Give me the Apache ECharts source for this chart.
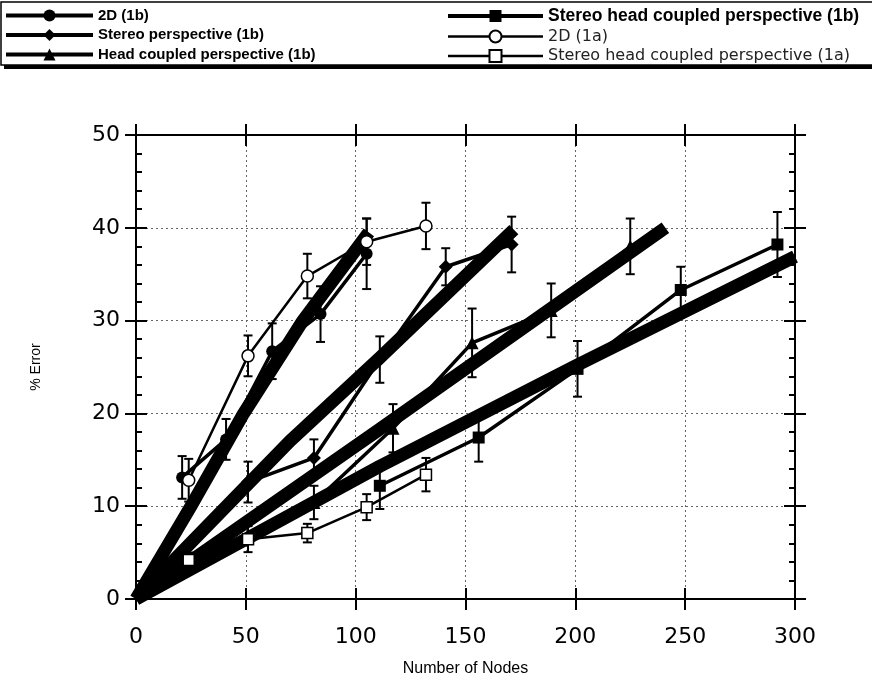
<!DOCTYPE html>
<html>
<head>
<meta charset="utf-8">
<script src="https://cdn.jsdelivr.net/npm/echarts@6/dist/echarts.min.js"></script>
<style>html,body{margin:0;padding:0;background:#fff}#c{width:872px;height:682px}</style>
</head>
<body>
<div id="c"></div>
<script>
// ---- data ----
const xTicks = [0, 50, 100, 150, 200, 250, 300];
const yTicks = [0, 10, 20, 30, 40, 50];

const names = ['2D (1b)', 'Stereo perspective (1b)', 'Head coupled perspective (1b)',
               'Stereo head coupled perspective (1b)', '2D (1a)', 'Stereo head coupled perspective (1a)'];

const x2D1b = [21, 41, 62, 84, 105];
const y2D1b = [13.1, 17.2, 26.7, 30.7, 37.2];
const e2D1b = [2.3, 2.2, 3.0, 3.0, 3.8];

const xSP1b = [51, 81, 111, 141, 171];
const ySP1b = [12.6, 15.2, 25.8, 35.8, 38.2];
const eSP1b = [2.2, 2.0, 2.5, 2.0, 3.0];

const xHC1b = [81, 117, 153, 189, 225];
const yHC1b = [10.4, 18.4, 27.6, 31.1, 38.0];
const eHC1b = [1.8, 2.6, 3.7, 2.9, 3.0];

const xSHC1b = [111, 156, 201, 248, 292];
const ySHC1b = [12.2, 17.4, 24.8, 33.3, 38.2];
const eSHC1b = [2.5, 2.6, 3.0, 2.5, 3.5];

const x2D1a = [24, 51, 78, 105, 132];
const y2D1a = [12.8, 26.2, 34.8, 38.5, 40.2];
const e2D1a = [2.3, 2.2, 2.4, 2.5, 2.5];

const xSHC1a = [24, 51, 78, 105, 132];
const ySHC1a = [4.2, 6.45, 7.1, 9.9, 13.4];
const eSHC1a = [0.8, 1.4, 1.0, 1.4, 1.8];

// thick fitted bands
const xBandA = [0, 25, 49, 76, 106];
const yBandA = [0, 10, 20, 30, 39.5];
const xBandB = [0, 70, 111, 172];
const yBandB = [0, 17, 26, 39.8];
const xBandC = [0, 111, 241];
const yBandC = [0, 18.3, 40];
const xBandD = [0, 111, 200, 300];
const yBandD = [0, 14.3, 25.1, 36.9];

// ---- build ----
const zip = (xs, ys) => xs.map((x, i) => [x, ys[i]]);
const zip3 = (xs, ys, es) => xs.map((x, i) => [x, ys[i], es[i]]);

function errRender(params, api) {
  const x = api.value(0), y = api.value(1), e = api.value(2);
  const t = api.coord([x, y + e]), b = api.coord([x, y - e]);
  const cw = 4.5;
  const st = {stroke: '#000', lineWidth: 2};
  return {type: 'group', children: [
    {type: 'line', shape: {x1: t[0], y1: t[1], x2: b[0], y2: b[1]}, style: st},
    {type: 'line', shape: {x1: t[0] - cw, y1: t[1], x2: t[0] + cw, y2: t[1]}, style: st},
    {type: 'line', shape: {x1: b[0] - cw, y1: b[1], x2: b[0] + cw, y2: b[1]}, style: st}
  ]};
}

const font = 'Liberation Sans, Arial, sans-serif';
const tickFont = 'DejaVu Sans, sans-serif';

function band(xs, ys) {
  return {type: 'line', data: zip(xs, ys), symbol: 'none', z: 1, silent: true,
    lineStyle: {color: '#000', width: 13, cap: 'butt', join: 'round'}, animation: false};
}
function dataLine(name, xs, ys, symbol, size, filled, width) {
  return {type: 'line', name: name, data: zip(xs, ys), symbol: symbol, symbolSize: size, z: 4,
    showAllSymbol: true, animation: false,
    lineStyle: {color: '#000', width: width},
    itemStyle: {color: filled ? '#000' : '#fff', borderColor: '#000', borderWidth: filled ? 0 : 1.5}};
}
function errSeries(xs, ys, es) {
  return {type: 'custom', renderItem: errRender, data: zip3(xs, ys, es), z: 3, animation: false, silent: true};
}

const tickStyle = {color: '#000', width: 2};
function mkX(pos, inside, main) {
  return {type: 'value', position: pos, min: 0, max: 300, interval: 50,
    axisLine: {show: true, onZero: false, lineStyle: {color: '#000', width: 2}},
    axisTick: {show: true, inside: inside, length: 11, lineStyle: tickStyle},
    axisLabel: main ? {show: true, margin: 27, fontSize: 22, color: '#000', fontFamily: tickFont} : {show: false},
    splitLine: main ? {show: true, lineStyle: {color: '#666', width: 1, type: [2, 3]}} : {show: false},
    name: main ? 'Number of Nodes' : '', nameLocation: 'middle', nameGap: 62,
    nameTextStyle: {fontSize: 16, color: '#000', fontFamily: font}};
}
function mkY(pos, inside, main) {
  return {type: 'value', position: pos, min: 0, max: 50, interval: 10,
    axisLine: {show: true, onZero: false, lineStyle: {color: '#000', width: 2}},
    axisTick: {show: true, inside: inside, length: 11, lineStyle: tickStyle},
    minorTick: {show: inside, splitNumber: 5, length: 6, lineStyle: {color: '#000', width: 2}},
    axisLabel: main ? {show: true, margin: 16, fontSize: 22, color: '#000', fontFamily: tickFont} : {show: false},
    splitLine: main ? {show: true, lineStyle: {color: '#666', width: 1, type: [2, 3]}} : {show: false},
    name: main ? '% Error' : '', nameLocation: 'middle', nameGap: 93, nameRotate: 90,
    nameTextStyle: {fontSize: 14, color: '#000', fontFamily: font}};
}

const chart = echarts.init(document.getElementById('c'), null, {renderer: 'canvas'});
chart.setOption({
  backgroundColor: '#fff',
  animation: false,
  grid: {left: 136, right: 77, top: 135, bottom: 82},
  xAxis: [mkX('bottom', false, true), mkX('bottom', true, false), mkX('top', false, false), mkX('top', true, false)],
  yAxis: [mkY('left', false, true), mkY('left', true, false), mkY('right', false, false), mkY('right', true, false)],
  graphic: [
    {type: 'rect', z: 0, shape: {x: 4, y: 5, width: 900, height: 64}, style: {fill: '#000'}},
    {type: 'rect', z: 1, shape: {x: 1, y: 2, width: 900, height: 63}, style: {fill: '#fff', stroke: '#000', lineWidth: 1.5}}
  ],
  legend: [
    {left: 4, top: 8, orient: 'vertical', padding: 0, itemWidth: 87, itemHeight: 15, itemGap: 4.5, z: 10,
      textStyle: {fontSize: 15, fontWeight: 'bold', color: '#000', fontFamily: font},
      data: [{name: names[0], lineStyle: {width: 4}}, {name: names[1], lineStyle: {width: 4}},
             {name: names[2], lineStyle: {width: 4}}]},
    {left: 446, top: 7, orient: 'vertical', padding: 0, itemWidth: 95, itemHeight: 15, itemGap: 3.5, z: 10,
      textStyle: {fontSize: 16, color: '#222', fontFamily: tickFont},
      data: [{name: names[3], lineStyle: {width: 4}, textStyle: {fontWeight: 'bold', fontSize: 17.5, color: '#000', fontFamily: font}},
             {name: names[4], lineStyle: {width: 2.5}}, {name: names[5], lineStyle: {width: 2.5}}]}
  ],
  series: [
    band(xBandA, yBandA), band(xBandB, yBandB), band(xBandC, yBandC), band(xBandD, yBandD),
    errSeries(x2D1b, y2D1b, e2D1b), errSeries(xSP1b, ySP1b, eSP1b), errSeries(xHC1b, yHC1b, eHC1b),
    errSeries(xSHC1b, ySHC1b, eSHC1b), errSeries(x2D1a, y2D1a, e2D1a), errSeries(xSHC1a, ySHC1a, eSHC1a),
    dataLine(names[0], x2D1b, y2D1b, 'circle', 12, true, 3.5),
    dataLine(names[1], xSP1b, ySP1b, 'diamond', 14, true, 3.5),
    dataLine(names[2], xHC1b, yHC1b, 'triangle', 13, true, 3.5),
    dataLine(names[3], xSHC1b, ySHC1b, 'rect', 12, true, 3.5),
    dataLine(names[4], x2D1a, y2D1a, 'circle', 12, false, 2.5),
    dataLine(names[5], xSHC1a, ySHC1a, 'rect', 11, false, 2.5)
  ]
});
</script>
</body>
</html>
